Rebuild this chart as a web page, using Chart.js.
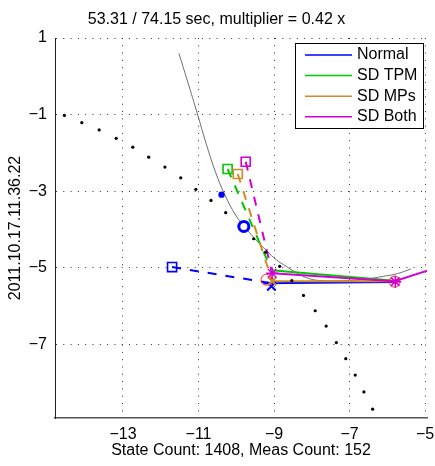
<!DOCTYPE html>
<html>
<head>
<meta charset="utf-8">
<script src="https://cdn.jsdelivr.net/npm/chart.js@4.4.1/dist/chart.umd.min.js"></script>
<style>
  body { margin: 0; background: #fff; }
  canvas { display: block; }
</style>
</head>
<body>
<canvas id="track" width="435" height="466"></canvas>
<script>
// axis ticks
const xTicks = [-13, -11, -9, -7, -5];
const yTicks = [1, -1, -3, -5, -7];

// reference trajectory (black dots)
const dotX = [-14.55, -14.09, -13.63, -13.18, -12.74, -12.32, -11.89, -11.47, -11.07, -10.67, -10.28, -9.92,
  -9.54, -9.22, -8.85, -8.53, -8.22, -7.91, -7.62, -7.35, -7.10, -6.85, -6.62, -6.39];
const dotY = [-1.02, -1.21, -1.40, -1.62, -1.85, -2.11, -2.37, -2.65, -2.95, -3.24, -3.56, -3.90,
  -4.24, -4.59, -4.96, -5.33, -5.72, -6.12, -6.52, -6.95, -7.37, -7.80, -8.24, -8.69];

// gray fitted curve
const curveX = [-11.52, -11.30, -11.02, -10.80, -10.55, -10.30, -10.00, -9.72, -9.45, -9.20, -8.94, -8.68,
  -8.42, -8.16, -7.90, -7.50, -7.00, -6.60, -6.10, -5.73, -5.38];
const curveY = [0.60, -0.10, -1.01, -1.75, -2.50, -3.10, -3.65, -4.00, -4.30, -4.55, -4.79, -4.96,
  -5.12, -5.25, -5.32, -5.34, -5.33, -5.30, -5.22, -5.15, -5.03];

// filters: Normal, SD TPM, SD MPs, SD Both
const filterNames = ['Normal', 'SD TPM', 'SD MPs', 'SD Both'];
const filterColors = ['#0000ff', '#00c800', '#d08a26', '#d200d2'];
const startX = [-11.70, -10.23, -9.96, -9.75];
const startY = [-4.98, -2.42, -2.55, -2.23];
const joinX = [-9.07, -9.07, -9.05, -9.05];
const joinY = [-5.40, -5.05, -5.35, -5.14];
const trackX = [[-9.28, -5.81], [-9.07, -5.81], [-9.05, -5.81], [-9.05, -5.81, -4.90]];
const trackY = [[-5.40, -5.37], [-5.06, -5.34], [-5.35, -5.35], [-5.14, -5.35, -5.06]];

// single markers
const measX = [-9.20, -5.81];
const measY = [-5.31, -5.36];
const bothStarX = [-9.05, -5.79];
const bothStarY = [-5.14, -5.36];
const normalCross = [-9.07, -5.48];
const mpsCross = [-9.05, -5.35];
const blueDot = [-10.39, -3.09];
const blueRing = [-9.80, -3.92];

const pts = (xs, ys) => xs.map((x, i) => ({ x: x, y: ys[i] }));
const minus = v => (v < 0 ? '\u2212' + Math.abs(v) : String(v));

Chart.defaults.font.family = "'Liberation Sans', Arial, sans-serif";
Chart.defaults.font.size = 16;
Chart.defaults.color = '#000';

const datasets = [];

// markers on top
datasets.push({ data: pts(bothStarX, bothStarY), pointStyle: 'star', pointRadius: 6, borderColor: filterColors[3], pointBorderWidth: 1.5, showLine: false, order: 0 });
datasets.push({ data: [{ x: mpsCross[0], y: mpsCross[1] }], pointStyle: 'crossRot', pointRadius: 6, borderColor: filterColors[2], pointBorderWidth: 2, showLine: false, order: 1 });
datasets.push({ data: [{ x: normalCross[0], y: normalCross[1] }], pointStyle: 'crossRot', pointRadius: 6, borderColor: filterColors[0], pointBorderWidth: 2, showLine: false, order: 2 });
datasets.push({ data: pts(measX, measY), pointStyle: 'circle', pointRadius: 5.5, borderColor: '#ff2020', backgroundColor: 'rgba(0,0,0,0)', pointBorderWidth: 1, showLine: false, order: 3 });
datasets.push({ data: [{ x: blueRing[0], y: blueRing[1] }], pointStyle: 'circle', pointRadius: 5, borderColor: '#0000ff', backgroundColor: '#fff', pointBorderWidth: 3, showLine: false, order: 4 });
datasets.push({ data: [{ x: blueDot[0], y: blueDot[1] }], pointStyle: 'circle', pointRadius: 3.2, borderColor: '#0000ff', backgroundColor: '#0000ff', pointBorderWidth: 0, showLine: false, order: 5 });
datasets.push({ data: pts(dotX, dotY), pointStyle: 'circle', pointRadius: 1.6, borderColor: '#000', backgroundColor: '#000', pointBorderWidth: 0, showLine: false, order: 6 });

// solid tracks, magenta drawn over the others
[3, 2, 1, 0].forEach((k, n) => {
  datasets.push({ data: pts(trackX[k], trackY[k]), showLine: true, borderColor: filterColors[k], borderWidth: 2, pointRadius: 0, order: 10 + n });
});

// dashed links from each start square
[3, 2, 1, 0].forEach((k, n) => {
  datasets.push({
    data: pts([startX[k], joinX[k]], [startY[k], joinY[k]]),
    showLine: true, borderColor: filterColors[k], borderWidth: 2, borderDash: [9, 9],
    pointStyle: 'rect', pointRadius: [6.4, 0], pointBorderWidth: 1.6,
    pointBorderColor: filterColors[k], pointBackgroundColor: 'rgba(0,0,0,0)', order: 20 + n
  });
});

// gray curve at the bottom
datasets.push({ data: pts(curveX, curveY), showLine: true, borderColor: '#6e6e6e', borderWidth: 1, pointRadius: 0, tension: 0.4, order: 40 });

// boxed legend in the upper right of the plot
const legendBox = {
  id: 'legendBox',
  afterDraw(chart) {
    const ctx = chart.ctx;
    const area = chart.chartArea;
    const w = 128, h = 85;
    const left = area.right - 4 - w, top = area.top + 5;
    ctx.save();
    ctx.fillStyle = '#fff';
    ctx.fillRect(left, top, w, h);
    ctx.strokeStyle = '#000';
    ctx.lineWidth = 1;
    ctx.strokeRect(left + 0.5, top + 0.5, w, h);
    ctx.font = "16px 'Liberation Sans', Arial, sans-serif";
    ctx.textBaseline = 'middle';
    ctx.fillStyle = '#000';
    filterNames.forEach((name, i) => {
      const y = top + 12 + i * 20.6;
      ctx.strokeStyle = filterColors[i];
      ctx.lineWidth = 1.5;
      ctx.beginPath();
      ctx.moveTo(left + 10, y);
      ctx.lineTo(left + 57, y);
      ctx.stroke();
      ctx.fillText(name, left + 62, y);
    });
    ctx.restore();
  }
};

new Chart(document.getElementById('track'), {
  type: 'scatter',
  data: { datasets: datasets },
  options: {
    responsive: false,
    animation: false,
    layout: { padding: { right: 2 } },
    plugins: {
      legend: { display: false },
      tooltip: { enabled: false },
      title: {
        display: true,
        text: '53.31 / 74.15 sec, multiplier = 0.42 x',
        font: { size: 16, weight: 'normal' },
        color: '#000',
        padding: { top: 10, bottom: 8.8 }
      }
    },
    scales: {
      x: {
        type: 'linear',
        min: -14.8,
        max: -4.95,
        afterBuildTicks: s => { s.ticks = xTicks.map(v => ({ value: v })); },
        afterFit: s => { s.height = 48; s.paddingLeft = 0; s.paddingRight = 0; },
        ticks: { callback: v => minus(v), padding: 7, maxRotation: 0, autoSkip: false },
        grid: { color: '#333', lineWidth: 1, drawTicks: false },
        border: { display: true, color: '#555', width: 1.5, dash: [1, 6.3] },
        title: { display: true, text: 'State Count: 1408, Meas Count: 152', padding: { top: 0, bottom: 6 } }
      },
      y: {
        type: 'linear',
        min: -8.92,
        max: 1,
        afterBuildTicks: s => { s.ticks = yTicks.map(v => ({ value: v })); },
        afterFit: s => { s.width = 55; s.paddingTop = 0; s.paddingBottom = 0; },
        ticks: { callback: v => minus(v), padding: 8, autoSkip: false },
        grid: { color: '#333', lineWidth: 1, drawTicks: false },
        border: { display: true, color: '#222', width: 1, dash: [1, 6.3] },
        title: { display: true, text: '2011.10.17.11.36.22', padding: { top: 6, bottom: 0 } }
      }
    }
  },
  plugins: [legendBox]
});
</script>
</body>
</html>
